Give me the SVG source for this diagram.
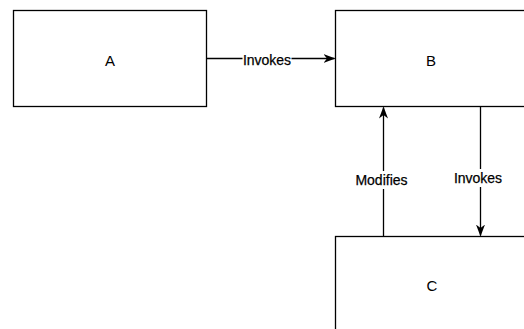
<svg xmlns="http://www.w3.org/2000/svg" width="524" height="329" viewBox="0 0 524 329">
<defs>
<style>
.box{fill:#fff;stroke:#000;stroke-width:1.3}
.t{font-family:"Liberation Sans",Arial,sans-serif;font-size:15px;fill:#000;text-anchor:middle;dominant-baseline:central}
.l{font-family:"Liberation Sans",Arial,sans-serif;font-size:14px;fill:#000;text-anchor:middle;dominant-baseline:central;stroke:#000;stroke-width:0.25}
.e{fill:none;stroke:#000;stroke-width:1.3}
.lb{fill:#fff}
</style>
<marker id="ah" viewBox="0 0 12 10" refX="11" refY="5" markerWidth="12" markerHeight="10" markerUnits="userSpaceOnUse" orient="auto">
<path d="M0,0.5 L12,5 L0,9.5 L3.5,5 Z" fill="#000"/>
</marker>
</defs>
<rect width="524" height="329" fill="#fff"/>
<g id="connectors">
<path class="e" d="M206.5,58.5 L334.5,58.5" marker-end="url(#ah)"/>
<rect class="lb" x="242.5" y="51" width="49" height="17"/>
<text class="l" x="267" y="60">Invokes</text>
<path class="e" d="M383.5,236.5 L383.5,107.5" marker-end="url(#ah)"/>
<rect class="lb" x="354" y="171" width="55" height="18"/>
<text class="l" x="381.5" y="180">Modifies</text>
<path class="e" d="M480.5,106.5 L480.5,235.5" marker-end="url(#ah)"/>
<rect class="lb" x="453" y="169" width="52" height="18"/>
<text class="l" x="478" y="178">Invokes</text>
</g>
<g id="A">
<rect class="box" x="13.5" y="10.5" width="193" height="96"/>
<text class="t" x="110" y="60">A</text>
</g>
<g id="B">
<rect class="box" x="335.5" y="10.5" width="193" height="96"/>
<text class="t" x="431" y="60">B</text>
</g>
<g id="C">
<rect class="box" x="335.5" y="236.5" width="193" height="96"/>
<text class="t" x="432" y="285">C</text>
</g>
</svg>
